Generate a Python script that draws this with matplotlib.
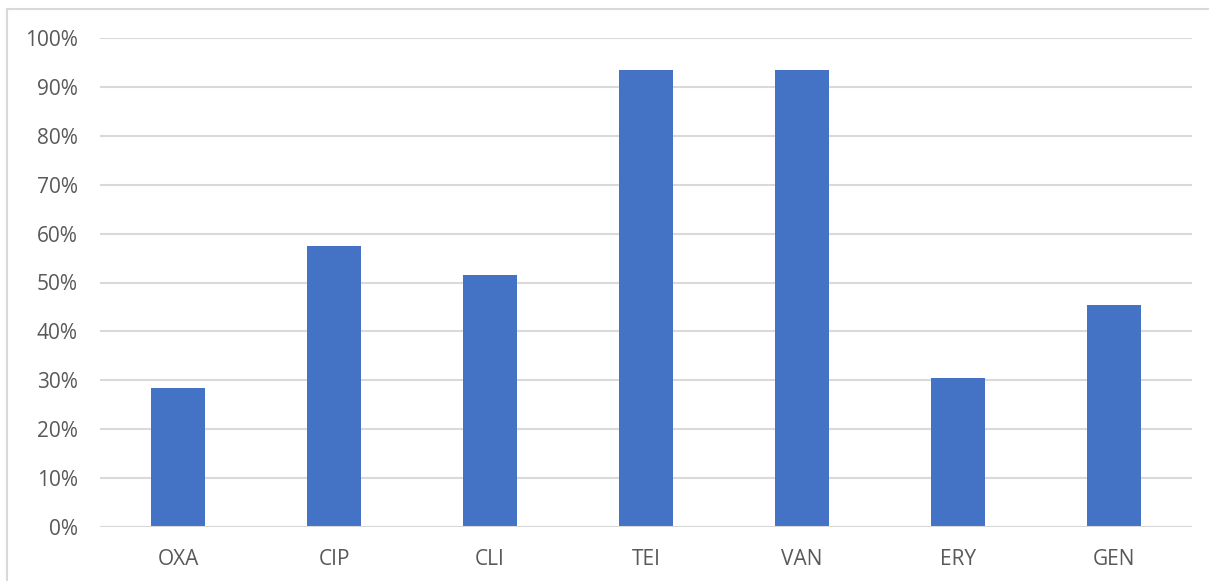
import matplotlib.pyplot as plt
from matplotlib.patches import Rectangle
from matplotlib.ticker import PercentFormatter

categories = ['OXA', 'CIP', 'CLI', 'TEI', 'VAN', 'ERY', 'GEN']
values = [0.284, 0.575, 0.515, 0.935, 0.935, 0.305, 0.455]

plt.rcParams['font.family'] = ['Open Sans', 'DejaVu Sans']

fig = plt.figure(figsize=(12.09, 5.81), dpi=100)
ax = fig.add_axes([100/1209, 1 - 527/581, 1092/1209, 489/581])

# chart area border (cut off at right and bottom)
fig.patches.append(Rectangle((7/1209, -0.1), 1.2, 1 - 9/581 + 0.1,
                             transform=fig.transFigure, fill=False,
                             edgecolor='#d9d9d9', linewidth=1.5))

x = range(len(categories))
ax.bar(x, values, width=0.35, color='#4472C4', zorder=2)

ax.set_xlim(-0.5, len(categories) - 0.5)
ax.set_ylim(0, 1)
ax.set_yticks([i / 10 for i in range(11)])
ax.yaxis.set_major_formatter(PercentFormatter(1.0, decimals=0))
ax.set_xticks(list(x))
ax.set_xticklabels(categories)
ax.grid(axis='y', color='#d9d9d9', linewidth=1.5, zorder=0)
ax.axhline(0, color='#d9d9d9', linewidth=1.5, zorder=3)

for s in ax.spines.values():
    s.set_visible(False)
ax.tick_params(length=0, labelsize=15, colors='#595959')
ax.tick_params(axis='y', pad=16)
ax.tick_params(axis='x', pad=16)

plt.savefig('out.png', dpi=100)
